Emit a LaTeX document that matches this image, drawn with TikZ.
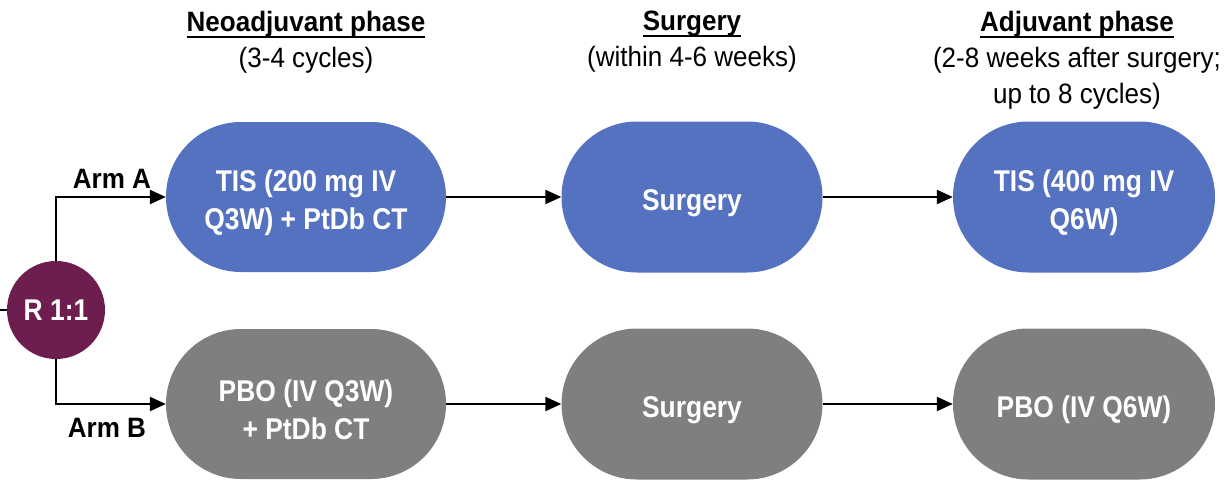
\documentclass[tikz,border=0pt]{standalone}
\usepackage{fontspec}
\usetikzlibrary{shapes.misc,arrows.meta}
\setmainfont{Liberation Sans}
\newfontfamily\hdrfont[FakeStretch=0.93]{Liberation Sans}
\newfontfamily\boxfont[FakeStretch=0.88]{Liberation Sans}
\definecolor{tisblue}{HTML}{5572C0}
\definecolor{pbogray}{HTML}{7F7F7F}
\definecolor{rpurple}{HTML}{6E1E4E}
\newcommand\hul[1]{\setbox0\hbox{#1}\rlap{\rule[-6.5pt]{\wd0}{2.2pt}}\box0}
\newcommand\tstr{\rule{0pt}{34pt}}
\begin{document}
\begin{tikzpicture}[x=1pt,y=-1pt,
  stadium/.style={rounded rectangle, draw=none, text=white, align=center,
    font=\boxfont\bfseries\fontsize{30}{38}\selectfont, inner sep=0pt},
  bluebox/.style={stadium, fill=tisblue},
  graybox/.style={stadium, fill=pbogray},
  hdr/.style={align=center, anchor=north, inner sep=0pt,
    font=\hdrfont\fontsize{28}{36}\selectfont},
  armlbl/.style={anchor=base, inner sep=0pt, font=\hdrfont\bfseries\fontsize{28}{34}\selectfont},
  conn/.style={line width=2.4pt, -{Triangle[length=16pt,width=14pt]}},
  plain/.style={line width=2.4pt}
]
\useasboundingbox (0,0) rectangle (1227,480);

% headers
\node[hdr] (h1) at (306,11) {\hul{\textbf{Neoadjuvant phase}}\\(3-4 cycles)};
\node[hdr] (h2) at (692,11) {\hul{\textbf{Surgery}}\\(within 4-6 weeks)};
\node[hdr] (h3) at (1077,11) {\hul{\textbf{Adjuvant phase}}\\(2-8 weeks after surgery;\\up to 8 cycles)};

% randomisation
\node[circle, fill=rpurple, minimum size=98pt, inner sep=0pt, text=white,
  font=\boxfont\bfseries\fontsize{30}{36}\selectfont] (R) at (56,310) {R 1:1};
\coordinate (in) at (0,310);

% arm A
\node[bluebox, minimum width=280pt, minimum height=150pt] (A1) at (306,197) {\tstr TIS (200 mg IV\\Q3W) + PtDb CT};
\node[bluebox, minimum width=261pt, minimum height=151pt] (A2) at (692,197) {\tstr Surgery};
\node[bluebox, minimum width=262pt, minimum height=151pt] (A3) at (1084,197) {\tstr TIS (400 mg IV\\Q6W)};

% arm B
\node[graybox, minimum width=280pt, minimum height=150pt] (B1) at (306,404) {\tstr PBO (IV Q3W)\\+ PtDb CT};
\node[graybox, minimum width=261pt, minimum height=151pt] (B2) at (692,404) {\tstr Surgery};
\node[graybox, minimum width=262pt, minimum height=151pt] (B3) at (1084,404) {\tstr PBO (IV Q6W)};

% labels
\node[armlbl] (la) at (112,188) {Arm A};
\node[armlbl] (lb) at (107,437) {Arm B};

% connectors
\draw[plain] (in) -- (R.west);
\draw[conn] (R.north) |- (A1.west);
\draw[conn] (R.south) |- (B1.west);
\draw[conn] (A1.east) -- (A2.west);
\draw[conn] (A2.east) -- (A3.west);
\draw[conn] (B1.east) -- (B2.west);
\draw[conn] (B2.east) -- (B3.west);
\end{tikzpicture}
\end{document}
